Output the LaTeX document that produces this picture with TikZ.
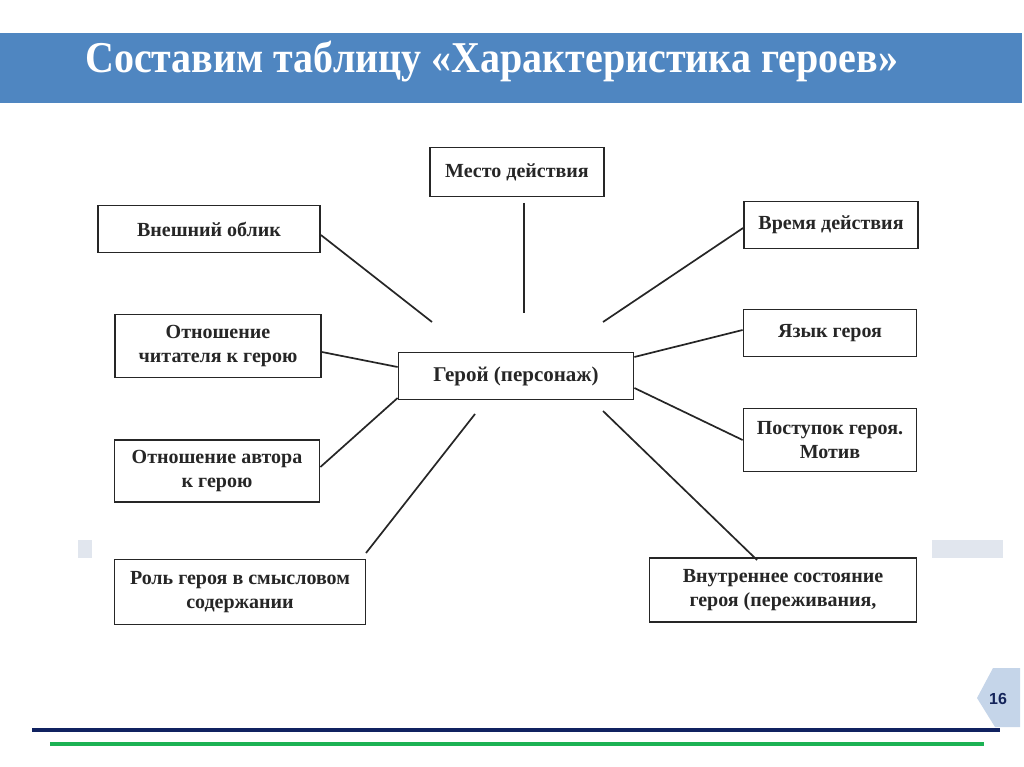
\documentclass[tikz,border=0pt]{standalone}
\usepackage{fontspec}
\setmainfont{Liberation Serif}
\newfontfamily\numfont{Liberation Sans}
\definecolor{titlebar}{RGB}{79,134,193}
\definecolor{stripgray}{RGB}{225,230,238}
\definecolor{navyline}{RGB}{16,34,96}
\definecolor{greenline}{RGB}{28,178,84}
\definecolor{tabblue}{RGB}{197,213,233}
\definecolor{numnavy}{RGB}{20,36,90}
\tikzset{
  box/.style={draw=black!85, line width=1.8pt, fill=white, align=center, inner sep=0pt,
    font=\fontsize{20}{24}\selectfont\bfseries, text=black!85},
  link/.style={draw=black!85, line width=1.7pt},
}
\begin{document}
\begin{tikzpicture}[x=1pt,y=-1pt]
\useasboundingbox (0,0) rectangle (1024,767);
\fill[white] (0,0) rectangle (1024,767);
% title bar
\fill[titlebar] (0,33) rectangle (1022,103);
\node[text=white, font=\fontsize{40}{44}\selectfont\bfseries, anchor=base west, inner sep=0pt, yscale=1.1] (title) at (85,73) {Составим таблицу «Характеристика героев»};
% gray strips
\fill[stripgray] (78,540) rectangle (92,558);
\fill[stripgray] (932,540) rectangle (1003,558);
% boxes
\node[box, minimum width=174pt, minimum height=49pt] (mesto) at (517,172) {Место действия};
\node[box, minimum width=222pt, minimum height=47pt] (oblik) at (209,229) {Внешний облик};
\node[box, minimum width=174pt, minimum height=47pt] (vremya) at (831,225) {Время действия};
\node[box, minimum width=206pt, minimum height=63pt] (chit) at (218,346) {Отношение\\читателя к герою};
\node[box, minimum width=235pt, minimum height=47pt, font=\fontsize{21}{24}\selectfont\bfseries] (geroi) at (516,376) {Герой (персонаж)};
\node[box, minimum width=173pt, minimum height=47pt] (yazyk) at (830,333) {Язык героя};
\node[box, minimum width=205pt, minimum height=62pt] (avtor) at (217,471) {Отношение автора\\к герою};
\node[box, minimum width=173pt, minimum height=63pt] (postupok) at (830,440) {Поступок героя.\\Мотив};
\node[box, minimum width=251pt, minimum height=65pt] (rol) at (240,592) {Роль героя в смысловом\\содержании};
\node[box, minimum width=267pt, minimum height=64pt] (vnutr) at (783,590) {Внутреннее состояние\\героя (переживания,};
% free ends
\coordinate (mestoTop) at (524,203);
\coordinate (mestoEnd) at (524,313);
\coordinate (oblikEnd) at (432,322);
\coordinate (vremyaEnd) at (603,322);
\coordinate (rolStart) at (366,553);
\coordinate (rolEnd) at (475,414);
\coordinate (vnutrStart) at (757,560);
\coordinate (vnutrEnd) at (603,411);
% connectors
\draw[link] (mestoTop) -- (mestoEnd);
\draw[link] (oblik.east |- 0,235) -- (oblikEnd);
\draw[link] (vremya.west |- 0,228) -- (vremyaEnd);
\draw[link] (chit.east |- 0,352) -- (geroi.west |- 0,367);
\draw[link] (yazyk.west |- 0,330) -- (geroi.east |- 0,357);
\draw[link] (avtor.east |- 0,467) -- (geroi.west |- 0,398);
\draw[link] (postupok.west |- 0,440) -- (geroi.east |- 0,388);
\draw[link] (rolStart) -- (rolEnd);
\draw[link] (vnutrStart) -- (vnutrEnd);
% page tab
\fill[tabblue] (993,668) -- (1020,668) -- (1020,727) -- (995,727) -- (977,698) -- cycle;
\node[text=numnavy, font=\numfont\bfseries\fontsize{16}{18}\selectfont] (num) at (998,699) {16};
% bottom lines
\draw[navyline, line width=4pt] (32,730) -- (1000,730);
\draw[greenline, line width=3.5pt] (50,744) -- (984,744);
\end{tikzpicture}
\end{document}
